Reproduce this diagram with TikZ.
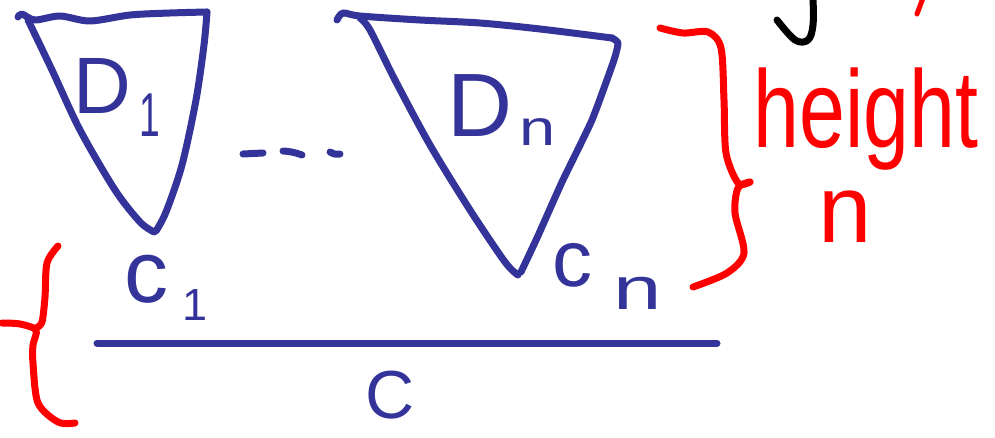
\documentclass[tikz,border=0pt]{standalone}
\usepackage{fontspec}
\setmainfont{Liberation Sans}
\definecolor{inkblue}{RGB}{51,51,153}
\definecolor{inkred}{RGB}{255,0,0}
\tikzset{
  pen/.style={line width=7pt, line cap=round, line join=round},
  bluepen/.style={pen, draw=inkblue},
  redpen/.style={pen, draw=inkred},
  bluelabel/.style={inner sep=0pt, anchor=base, text=inkblue},
  redlabel/.style={inner sep=0pt, anchor=base, text=inkred},
}
\newcommand{\fs}[1]{\fontsize{#1}{#1}\selectfont}
\begin{document}
\begin{tikzpicture}[x=1pt,y=-1pt]
\useasboundingbox (0,0) rectangle (995,438);
% ---- triangle D1
\draw[bluepen] plot[smooth,tension=0.5] coordinates {(18,17)(22,14)(35,20)(60,16)(90,21)(130,15)(170,13)(207,12)};
\draw[bluepen] plot[smooth,tension=0.5] coordinates {(207,12)(204,45)(196,100)(182,165)(166,212)(156,231)};
\draw[bluepen] plot[smooth,tension=0.5] coordinates {(154,232)(140,222)(115,190)(80,130)(52,70)(28,20)};
% ---- triangle Dn
\draw[bluepen] plot[smooth,tension=0.5] coordinates {(337,20)(343,13)(360,16)(420,20)(480,23)(540,29)(612,38)};
\draw[bluepen] plot[smooth,tension=0.3] coordinates {(612,38)(618,43)(614,60)(592,120)(562,182)(537,238)(521,272)};
\draw[bluepen] plot[smooth,tension=0.5] coordinates {(518,275)(505,262)(470,210)(430,145)(395,80)(370,30)(360,18)};
% ---- dashes
\draw[bluepen] (243,154) -- (263,153);
\draw[bluepen] (283,151) to[bend left=8] (302,155);
\draw[bluepen] (330,152) to[bend right=20] (340,154);
% ---- base line
\draw[bluepen] (97,343) -- (717,343);
% ---- labels
\node[bluelabel, font=\fs{80}] (d1) at (102,114) {D};
\node[bluelabel, font=\fs{62}, xscale=0.6] (d1s) at (150,137) {1};
\node[bluelabel, font=\fs{90}] (dn) at (480,137) {D};
\node[bluelabel, font=\fs{50}, xscale=1.3] (dns) at (538,146) {n};
\node[bluelabel, font=\fs{88}] (c1) at (146,302) {c};
\node[bluelabel, font=\fs{45}] (c1s) at (195,320) {1};
\node[bluelabel, font=\fs{80}] (cn) at (572,286) {c};
\node[bluelabel, font=\fs{60}, xscale=1.45] (cns) at (638,309) {n};
\node[bluelabel, font=\fs{68}] (cc) at (390,418) {C};
% ---- red braces
\draw[redpen] plot[smooth,tension=0.5] coordinates {(58,246)(47,263)(45,297)(42,322)(36,328)};
\draw[redpen] plot[smooth,tension=0.5] coordinates {(2,323)(20,324)(36,330)(33,345)(33,363)(38,403)(58,422)(75,423)};
\draw[redpen] plot[smooth,tension=0.5] coordinates {(660,28)(683,33)(708,32)(721,48)(724,100)(726,153)(738,183)(750,182)};
\draw[redpen] plot[smooth,tension=0.5] coordinates {(750,182)(738,188)(735,213)(744,253)(727,273)(693,287)};
\node[redlabel, font=\fs{110}, xscale=0.75] (ht) at (866,148) {height};
\node[redlabel, font=\fs{96}] (hn) at (845,243) {n};
% ---- cut-off fragments at the top
\draw[pen, draw=black] plot[smooth,tension=0.6] coordinates {(813,-2)(813,25)(808,40)(795,40)(777,20)};
\draw[redpen, line width=5pt] (923,-2) -- (917,14);
\end{tikzpicture}
\end{document}
